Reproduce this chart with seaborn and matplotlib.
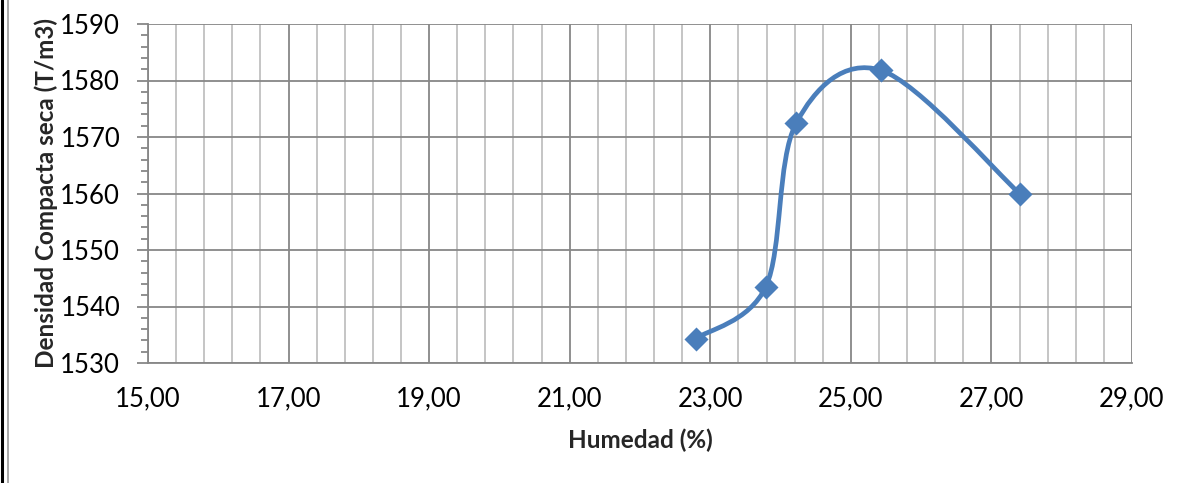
import numpy as np
import matplotlib
matplotlib.use("Agg")
import matplotlib.pyplot as plt
from matplotlib.path import Path
from matplotlib.patches import PathPatch
from matplotlib.ticker import FixedLocator, MultipleLocator, FuncFormatter
import seaborn as sns
import pandas as pd

humedad = [22.79, 23.79, 24.22, 25.43, 27.40]
densidad = [1534.3, 1543.5, 1572.4, 1581.8, 1560.0]
x_ticks = [15, 17, 19, 21, 23, 25, 27, 29]
y_ticks = [1530, 1540, 1550, 1560, 1570, 1580, 1590]
x_label = "Humedad (%)"
y_label = "Densidad Compacta seca (T/m3)"

sns.set_style("white")
plt.rcParams['font.family'] = ['Lato', 'DejaVu Sans']

blue = "#4a7ebb"
fig = plt.figure(figsize=(12.01, 4.83), dpi=100)
ax = fig.add_axes([148/1201, 1-363/483, (1132-148)/1201, (363-24)/483])

df = pd.DataFrame({"h": humedad, "d": densidad})

# Excel-like smoothed curve (cubic Bezier through points)
P = np.column_stack([humedad, densidad])
n = len(P)
verts = [tuple(P[0])]
codes = [Path.MOVETO]
for i in range(n - 1):
    p0 = P[i - 1] if i > 0 else P[i]
    p1 = P[i]
    p2 = P[i + 1]
    p3 = P[i + 2] if i + 2 < n else P[i + 1]
    c1 = p1 + (p2 - p0) / 6.0
    c2 = p2 - (p3 - p1) / 6.0
    verts += [tuple(c1), tuple(c2), tuple(p2)]
    codes += [Path.CURVE4] * 3
patch = PathPatch(Path(verts, codes), facecolor="none", edgecolor=blue,
                  lw=3.4, capstyle="round", joinstyle="round", zorder=3)
ax.add_patch(patch)

sns.scatterplot(data=df, x="h", y="d", marker="D", s=150, color=blue,
                edgecolor=blue, linewidth=0, ax=ax, zorder=4)

ax.set_xlim(x_ticks[0], x_ticks[-1])
ax.set_ylim(y_ticks[0], y_ticks[-1])
ax.xaxis.set_major_locator(FixedLocator(x_ticks))
minor_x = np.arange(x_ticks[0], x_ticks[-1] + 1e-9, 0.4)
ax.xaxis.set_minor_locator(FixedLocator(minor_x))
ax.yaxis.set_major_locator(FixedLocator(y_ticks))
ax.yaxis.set_minor_locator(MultipleLocator(2))
ax.xaxis.set_major_formatter(FuncFormatter(lambda v, p: f"{v:.2f}".replace(".", ",")))
ax.yaxis.set_major_formatter(FuncFormatter(lambda v, p: f"{int(round(v))}"))

ax.grid(which="major", axis="both", color="#878787", lw=1.3, zorder=0)
ax.grid(which="minor", axis="x", color="#c0c0c0", lw=1.3, zorder=0)
ax.set_axisbelow(True)

for s in ["top", "right"]:
    ax.spines[s].set_visible(False)
for s in ["left", "bottom"]:
    ax.spines[s].set_color("#878787")
    ax.spines[s].set_linewidth(1.3)

ax.tick_params(axis="y", which="major", length=8, width=1.3, color="#878787",
               labelsize=18.5, pad=12, left=True, labelcolor="black")
ax.tick_params(axis="y", which="minor", length=5, width=1.3, color="#878787", left=True)
ax.tick_params(axis="x", which="both", length=0, labelsize=18.5, pad=17, labelcolor="black")

ax.set_xlabel(x_label, fontsize=17.5, fontweight="bold", labelpad=12)
ax.set_ylabel(y_label, fontsize=17.5, fontweight="bold", labelpad=2)

# chart frame lines on the left edge
fig.add_artist(plt.Line2D([1.5/1201, 1.5/1201], [0, 1], color="black", lw=2.2))
fig.add_artist(plt.Line2D([8/1201, 8/1201], [0, 1], color="#9a9a9a", lw=1.2))

fig.savefig("out.png", dpi=100)
